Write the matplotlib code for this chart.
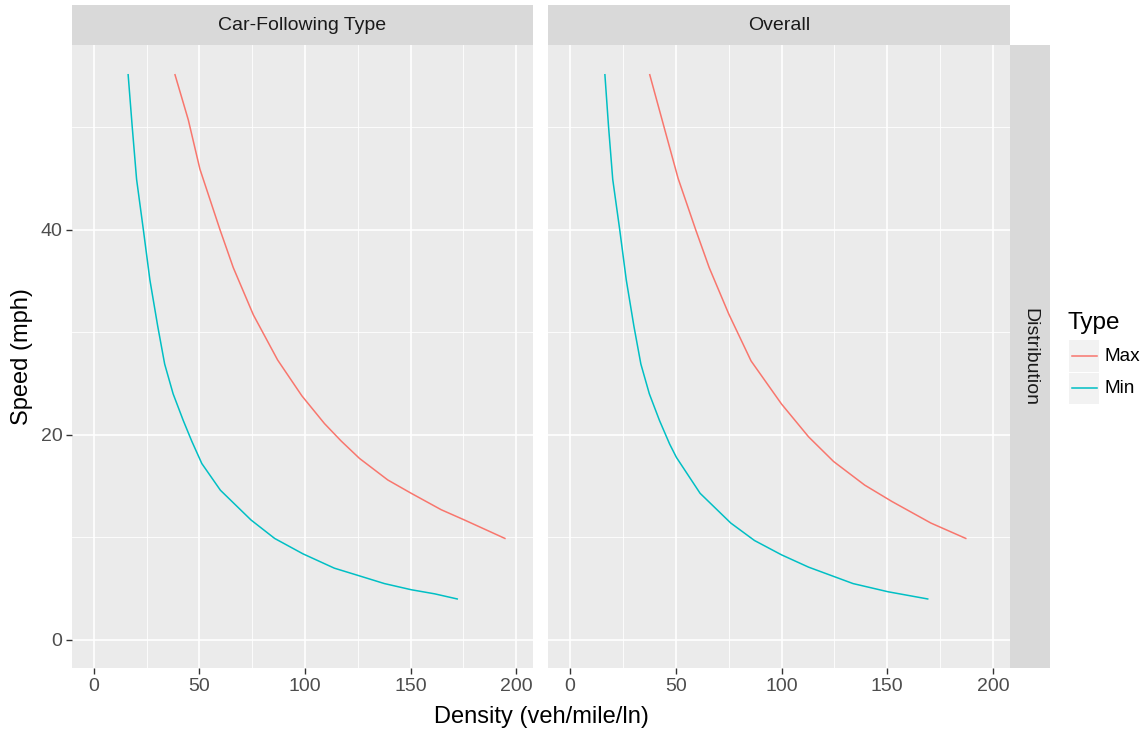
import matplotlib
matplotlib.use("Agg")
import matplotlib.pyplot as plt
from matplotlib.patches import Rectangle
from matplotlib.lines import Line2D

plt.rcParams['font.family'] = ['Liberation Sans', 'DejaVu Sans']

# ---- data ----
panels = ["Car-Following Type", "Overall"]
row_label = "Distribution"
types = ["Max", "Min"]
colors = {"Max": "#F8766D", "Min": "#00BFC4"}

cf_max_density = [38.4, 44.7, 50.2, 59.7, 66.0, 75.5, 87.0, 98.5, 109.2, 117.1, 125.8, 139.2, 150.3, 164.5, 175.5, 194.7]
cf_max_speed   = [55.1, 50.7, 45.9, 40.0, 36.3, 31.7, 27.3, 23.8, 21.1, 19.4, 17.7, 15.6, 14.3, 12.7, 11.7, 9.9]
cf_min_density = [16.2, 18.1, 20.2, 23.4, 26.5, 30.2, 33.5, 37.5, 42.3, 46.3, 51.1, 59.9, 74.4, 85.6, 99.0, 113.9, 125.0, 137.6, 150.3, 161.4, 172.1]
cf_min_speed   = [55.1, 50.1, 44.9, 40.0, 35.1, 30.6, 26.9, 24.0, 21.4, 19.4, 17.2, 14.6, 11.7, 9.9, 8.4, 7.0, 6.3, 5.5, 4.9, 4.5, 4.0]

ov_max_density = [37.7, 43.8, 51.1, 59.4, 65.8, 75.0, 85.6, 100.0, 112.8, 124.6, 139.3, 152.2, 170.6, 187.1]
ov_max_speed   = [55.1, 50.5, 45.0, 40.0, 36.3, 31.8, 27.2, 23.0, 19.8, 17.4, 15.1, 13.5, 11.4, 9.9]
ov_min_density = [16.5, 18.2, 20.2, 23.5, 26.6, 30.2, 33.5, 37.5, 42.3, 47.1, 50.3, 61.5, 76.0, 87.2, 100.0, 112.8, 133.8, 150.4, 169.1]
ov_min_speed   = [55.1, 50.1, 44.9, 40.0, 35.1, 30.6, 26.9, 24.0, 21.4, 19.1, 17.8, 14.3, 11.4, 9.7, 8.3, 7.1, 5.5, 4.7, 4.0]

series = {
    "Car-Following Type": {"Max": (cf_max_density, cf_max_speed), "Min": (cf_min_density, cf_min_speed)},
    "Overall": {"Max": (ov_max_density, ov_max_speed), "Min": (ov_min_density, ov_min_speed)},
}

x_ticks = [0, 50, 100, 150, 200]
y_ticks = [0, 20, 40]
x_minor = [25, 75, 125, 175]
y_minor = [10, 30, 50]

# ---- layout ----
W, H = 1148, 734
fig = plt.figure(figsize=(W / 100, H / 100), dpi=100)
fig.patch.set_facecolor("white")

def fbox(x0, y0, x1, y1):
    return [x0 / W, 1 - y1 / H, (x1 - x0) / W, (y1 - y0) / H]

panel_x = [(72, 533), (548, 1010)]
pt, pb = 45, 668
tick_fs = 14
tick_col = "#4d4d4d"

for i, name in enumerate(panels):
    x0, x1 = panel_x[i]
    ax = fig.add_axes(fbox(x0, pt, x1, pb))
    ax.set_facecolor("#ebebeb")
    for s in ax.spines.values():
        s.set_visible(False)
    ax.set_xlim(-10.4, 208.0)
    ax.set_ylim(-2.73, 58.0)
    ax.set_xticks(x_ticks)
    ax.set_yticks(y_ticks)
    ax.set_xticks(x_minor, minor=True)
    ax.set_yticks(y_minor, minor=True)
    ax.grid(True, which="major", color="white", linewidth=1.2)
    ax.grid(True, which="minor", color="white", linewidth=0.6)
    ax.set_axisbelow(True)
    ax.tick_params(which="minor", length=0)
    ax.tick_params(which="major", length=4, width=1, color="#333333",
                   labelsize=tick_fs, labelcolor=tick_col, pad=3)
    if i > 0:
        ax.tick_params(axis="y", which="major", left=False, labelleft=False)
    for t in types:
        xs, ys = series[name][t]
        ax.plot(xs, ys, color=colors[t], linewidth=1.1)
    # top strip
    sax = fig.add_axes(fbox(x0, 5, x1, 45))
    sax.set_facecolor("#d9d9d9")
    sax.set_xticks([]); sax.set_yticks([])
    for s in sax.spines.values():
        s.set_visible(False)
    sax.text(0.5, 0.5, name, ha="center", va="center", fontsize=14,
             color="#1a1a1a", transform=sax.transAxes)

# right strip
rax = fig.add_axes(fbox(1010, pt, 1050, pb))
rax.set_facecolor("#d9d9d9")
rax.set_xticks([]); rax.set_yticks([])
for s in rax.spines.values():
    s.set_visible(False)
rax.text(0.5, 0.5, row_label, ha="center", va="center", rotation=-90,
         fontsize=14, color="#1a1a1a", transform=rax.transAxes)

# axis titles
fig.text(541 / W, 1 - 717 / H, "Density (veh/mile/ln)", ha="center", va="center",
         fontsize=17, color="black")
fig.text(22 / W, 1 - 357 / H, "Speed (mph)", ha="center", va="center",
         rotation=90, fontsize=17, color="black")

# legend
fig.text(1068 / W, 1 - 323 / H, "Type", ha="left", va="center", fontsize=17.5, color="black")
key_rows = [(340, 372), (373, 404)]
for t, (ky0, ky1) in zip(types, key_rows):
    fig.add_artist(Rectangle((1069 / W, 1 - ky1 / H), 30 / W, (ky1 - ky0) / H,
                             transform=fig.transFigure, facecolor="#f2f2f2", edgecolor="none"))
    ym = 1 - ((ky0 + ky1) / 2) / H
    fig.add_artist(Line2D([1072 / W, 1097 / W], [ym, ym], transform=fig.transFigure,
                          color=colors[t], linewidth=1.1))
    fig.text(1104 / W, ym, t, ha="left", va="center", fontsize=13.7, color="black")

fig.savefig("out.png", dpi=100)
